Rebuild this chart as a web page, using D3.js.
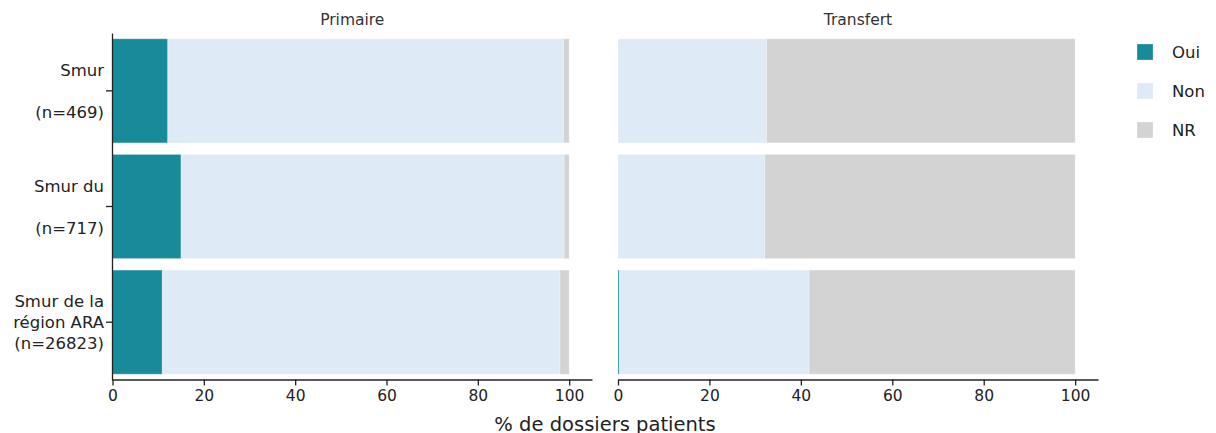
<!DOCTYPE html>
<html>
<head>
<meta charset="utf-8">
<script src="https://cdn.jsdelivr.net/npm/d3@7"></script>
<style>
  html, body { margin: 0; padding: 0; background: #fff; }
  svg { display: block; font-family: "DejaVu Sans", Verdana, sans-serif; }
</style>
</head>
<body>
<svg id="chart" width="1216" height="433"></svg>
<script>
// ---- data ----
const categories = ["Smur 1", "Smur 2", "ARA"];
const categoryLabels = [
  ["Smur", "", "(n=469)"],
  ["Smur du", "", "(n=717)"],
  ["Smur de la", "région ARA", "(n=26823)"]
];
const panels = ["Primaire", "Transfert"];
const seriesNames = ["Oui", "Non", "NR"];
const primaireOui = [12.1, 15.0, 10.9];
const primaireNon = [86.65, 83.9, 87.1];
const primaireNR  = [1.25, 1.1, 2.0];
const transfertOui = [0, 0, 0.3];
const transfertNon = [32.5, 32.1, 41.5];
const transfertNR  = [67.5, 67.9, 58.2];
const xTicks = [0, 20, 40, 60, 80, 100];
const colors = ["#178b99", "#deebf7", "#d3d3d3"];
const xTitle = "% de dossiers patients";

// ---- layout ----
const svg = d3.select("#chart");
const panelRanges = [[112.5, 592], [618, 1098]];
const y = d3.scaleBand().domain(categories).range([33, 380]).paddingInner(0.1).paddingOuter(0.05);
const panelData = [
  [primaireOui, primaireNon, primaireNR],
  [transfertOui, transfertNon, transfertNR]
];
const color = d3.scaleOrdinal().domain(seriesNames).range(colors);

panels.forEach((pname, pi) => {
  const x = d3.scaleLinear().domain([0, 105]).range(panelRanges[pi]);
  const rows = categories.map((c, i) => {
    const o = { cat: c };
    seriesNames.forEach((s, si) => o[s] = panelData[pi][si][i]);
    return o;
  });
  const stacked = d3.stack().keys(seriesNames)(rows);
  const g = svg.append("g");
  g.selectAll("g.series").data(stacked).join("g")
    .attr("fill", d => color(d.key))
    .selectAll("rect").data(d => d).join("rect")
    .attr("x", d => x(d[0]))
    .attr("width", d => Math.max(0, x(d[1]) - x(d[0])))
    .attr("y", d => y(d.data.cat))
    .attr("height", y.bandwidth())
    .attr("stroke", "#ffffff")
    .attr("stroke-opacity", 0.25)
    .attr("stroke-width", 1);

  // x axis
  const xa = g.append("g").attr("transform", "translate(0,379.5)")
    .call(d3.axisBottom(x).tickValues(xTicks).tickSize(6).tickSizeOuter(0));
  xa.select(".domain").attr("stroke", "#222").attr("stroke-width", 1.3);
  xa.selectAll(".tick line").attr("stroke", "#222").attr("stroke-width", 1.3);
  xa.selectAll(".tick text").attr("fill", "#222").attr("font-size", 15.5)
    .attr("font-family", "DejaVu Sans, Verdana, sans-serif").attr("dy", "0.85em").attr("y", 8);

  // panel title
  svg.append("text")
    .attr("x", (panelRanges[pi][0] + panelRanges[pi][1]) / 2)
    .attr("y", 25)
    .attr("text-anchor", "middle")
    .attr("font-size", 15.5)
    .attr("fill", "#333")
    .text(pname);

  if (pi === 0) {
    const ya = g.append("g").attr("transform", "translate(112,0)")
      .call(d3.axisLeft(y).tickSize(6).tickSizeOuter(0).tickFormat(""));
    ya.select(".domain").attr("stroke", "#222").attr("stroke-width", 1.3);
    ya.selectAll(".tick line").attr("stroke", "#222").attr("stroke-width", 1.3);
    // multi-line labels
    categories.forEach((c, i) => {
      const cy = y(c) + y.bandwidth() / 2;
      const lines = categoryLabels[i];
      const lh = 21;
      const t = svg.append("text")
        .attr("text-anchor", "end")
        .attr("font-size", 16.5)
        .attr("fill", "#222");
      lines.forEach((ln, li) => {
        t.append("tspan")
          .attr("x", 104)
          .attr("y", cy + (li - (lines.length - 1) / 2) * lh + 6)
          .text(ln);
      });
    });
  }
});

// axis title
svg.append("text")
  .attr("x", 605)
  .attr("y", 431)
  .attr("text-anchor", "middle")
  .attr("font-size", 19.5)
  .attr("fill", "#222")
  .text(xTitle);

// legend
const leg = svg.append("g");
seriesNames.forEach((s, i) => {
  const cy = 52 + i * 39;
  leg.append("rect").attr("x", 1137).attr("y", cy - 8).attr("width", 16).attr("height", 16)
    .attr("fill", color(s)).attr("stroke", "#fff").attr("stroke-opacity", 0.25);
  leg.append("text").attr("x", 1172).attr("y", cy + 6).attr("font-size", 16.5).attr("fill", "#222").text(s);
});
</script>
</body>
</html>
